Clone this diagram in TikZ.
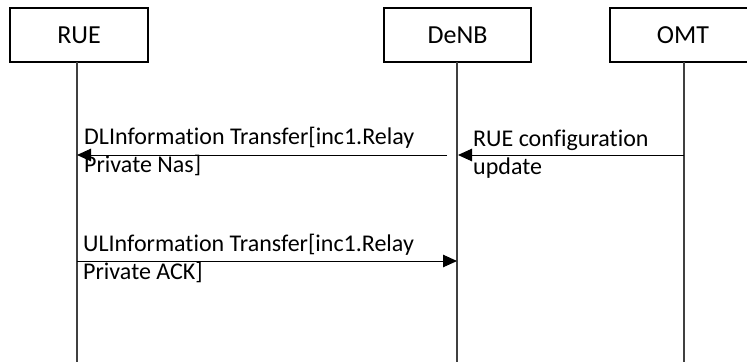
\documentclass[tikz,border=0pt]{standalone}
\usepackage{fontspec}
\setmainfont[Ligatures=NoCommon]{Carlito}
\usetikzlibrary{arrows.meta}
\begin{document}
\begin{tikzpicture}[x=1pt,y=-1pt,
  actor/.style={draw=black,line width=2pt,minimum width=138pt,minimum height=54pt,inner sep=0pt,font=\fontsize{26}{30}\selectfont},
  lifeline/.style={draw=black!75,line width=1.2pt},
  msg/.style={draw=black,line width=1pt,-{Triangle[length=14pt,width=12.5pt]}},
  msgtext/.style={anchor=base west,inner sep=0pt,align=left,font=\fontsize{24}{28}\selectfont}]
\useasboundingbox (0,0) rectangle (747,362);
\clip (0,0) rectangle (747,362);
\fill[white] (0,0) rectangle (747,362);
% actors
\node[actor] (rue) at (79,35) {RUE};
\node[actor,minimum width=147pt] (denb) at (457.5,35) {DeNB};
\node[actor,minimum width=147pt] (omt) at (683,35) {OMT};
% lifeline ends
\coordinate (rueT) at (77,62);
\coordinate (rueB) at (77,362);
\coordinate (denbT) at (457,62);
\coordinate (denbB) at (457,362);
\coordinate (omtT) at (684,62);
\coordinate (omtB) at (684,362);
\draw[lifeline] (rueT) -- (rueB);
\draw[lifeline] (denbT) -- (denbB);
\draw[lifeline] (omtT) -- (omtB);
% message points
\coordinate (m1s) at (684,155);
\coordinate (m1e) at (458,155);
\coordinate (m2s) at (447,155);
\coordinate (m2e) at (77,155);
\coordinate (m3s) at (77,261);
\coordinate (m3e) at (457,261);
\draw[msg] (m1s) -- (m1e);
\draw[msg] (m2s) -- (m2e);
\draw[msg] (m3s) -- (m3e);
% labels (base anchor = baseline of last line)
\node[msgtext] (t1) at (473,174) {RUE configuration\\update};
\node[msgtext] (t2) at (84,172) {DLInformation Transfer[inc1.Relay\\Private Nas]};
\node[msgtext] (t3) at (83,279) {ULInformation Transfer[inc1.Relay\\Private ACK]};
\end{tikzpicture}
\end{document}
